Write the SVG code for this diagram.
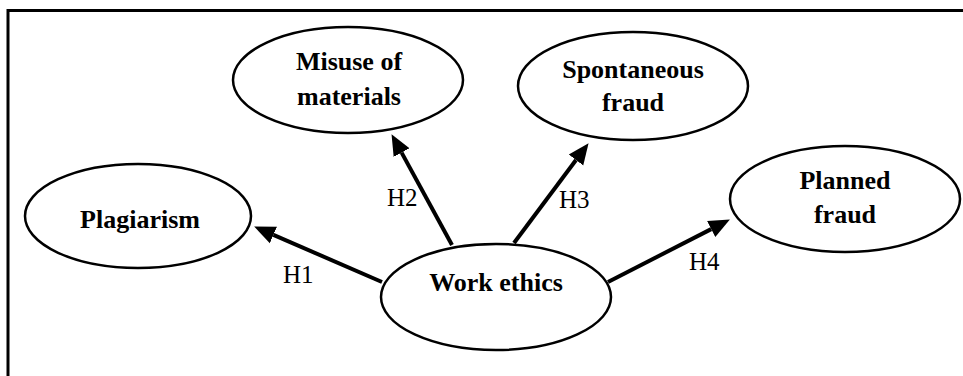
<svg xmlns="http://www.w3.org/2000/svg" width="963" height="376" viewBox="0 0 963 376">
<style>
.node ellipse{fill:#fff;stroke:#000;stroke-width:2.5}
.node text{font-family:"Liberation Serif","Times New Roman",serif;font-weight:bold;font-size:26px;text-anchor:middle;fill:#000}
.lbl{font-family:"Liberation Serif","Times New Roman",serif;font-size:25px;fill:#000}
.edge{stroke:#000;stroke-width:4;fill:none}
</style>
<defs>
<marker id="ah" markerUnits="userSpaceOnUse" markerWidth="22" markerHeight="20" viewBox="0 -10 22 20" refX="0" refY="0" orient="auto">
<path d="M0,-9 L21,0 L0,9 Z" fill="#000"/>
</marker>
</defs>
<rect width="963" height="376" fill="#fff"/>
<path d="M8,376 V10.5 H963" fill="none" stroke="#000" stroke-width="3"/>
<g id="connectors">
<line class="edge" x1="382" y1="282" x2="273.4" y2="234.9" marker-end="url(#ah)"/>
<line class="edge" x1="452" y1="245" x2="401.6" y2="152.6" marker-end="url(#ah)"/>
<line class="edge" x1="514" y1="243" x2="576" y2="160" marker-end="url(#ah)"/>
<line class="edge" x1="608" y1="282" x2="711.2" y2="229.1" marker-end="url(#ah)"/>
<text class="lbl" x="283" y="283">H1</text>
<text class="lbl" x="387" y="206">H2</text>
<text class="lbl" x="559" y="208">H3</text>
<text class="lbl" x="689" y="270">H4</text>
</g>
<g id="misuse" class="node">
<ellipse cx="348" cy="80" rx="115" ry="53"/>
<text x="349" y="70">Misuse of</text>
<text x="349" y="105">materials</text>
</g>
<g id="spontaneous" class="node">
<ellipse cx="633" cy="86" rx="115" ry="54"/>
<text x="633" y="78">Spontaneous</text>
<text x="633" y="111">fraud</text>
</g>
<g id="plagiarism" class="node">
<ellipse cx="138" cy="216" rx="113" ry="52"/>
<text x="140" y="228">Plagiarism</text>
</g>
<g id="planned" class="node">
<ellipse cx="845" cy="199" rx="115" ry="53"/>
<text x="845" y="189">Planned</text>
<text x="845" y="223">fraud</text>
</g>
<g id="work" class="node">
<ellipse cx="496" cy="297" rx="115" ry="53"/>
<text x="496" y="291">Work ethics</text>
</g>
</svg>
